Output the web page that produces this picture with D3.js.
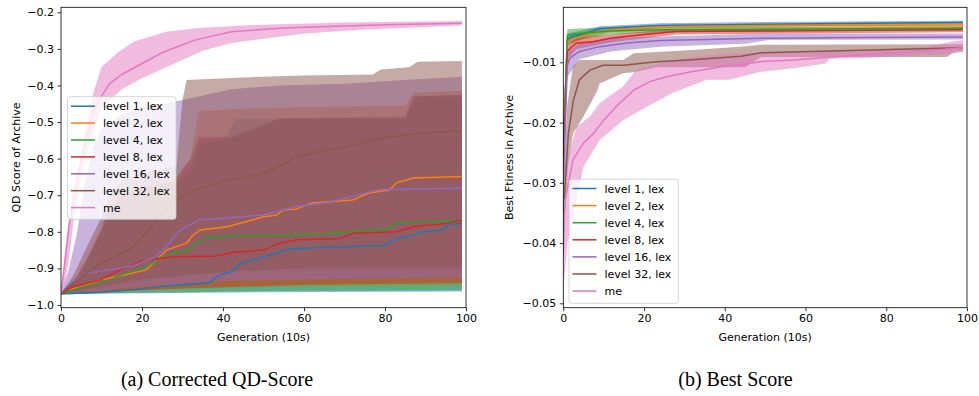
<!DOCTYPE html>
<html><head><meta charset="utf-8">
<script src="https://cdn.jsdelivr.net/npm/d3@7"></script>
<style>html,body{margin:0;padding:0;background:#fff;}svg{display:block;}</style>
</head><body>
<svg id="c" width="979" height="396"></svg>
<script>
// ---------------- DATA ----------------
const SERIES = ["level 1, lex","level 2, lex","level 4, lex","level 8, lex","level 16, lex","level 32, lex","me"];
const X_TICKS = [0,20,40,60,80,100];
const QD_TICKS = [-1.0,-0.9,-0.8,-0.7,-0.6,-0.5,-0.4,-0.3,-0.2];
const BF_TICKS = [-0.05,-0.04,-0.03,-0.02,-0.01];

// (a) QD score: [generation, value]
const QD_MEAN_L1 = [[0,-0.97],[10,-0.965],[18,-0.958],[26,-0.948],[36,-0.94],[37,-0.936],[38.4,-0.923],[40,-0.915],[41.7,-0.911],[43,-0.9],[44.2,-0.886],[47.5,-0.877],[50,-0.868],[53,-0.86],[55.7,-0.848],[64,-0.842],[79.5,-0.838],[81,-0.83],[83,-0.818],[87,-0.809],[89.4,-0.8],[94.4,-0.795],[95.6,-0.781],[99,-0.777]];
const QD_MEAN_L2 = [[0,-0.97],[1.4,-0.96],[5,-0.95],[9.6,-0.932],[14.6,-0.921],[21,-0.904],[23.6,-0.877],[26,-0.85],[31,-0.831],[32.5,-0.81],[34.3,-0.795],[41,-0.786],[45.8,-0.772],[50,-0.759],[53,-0.755],[55,-0.74],[58,-0.738],[62,-0.721],[72,-0.713],[76,-0.694],[81,-0.686],[83,-0.665],[87,-0.653],[99,-0.649]];
const QD_MEAN_L4 = [[0,-0.97],[5.4,-0.95],[12,-0.932],[16,-0.913],[21,-0.895],[26,-0.863],[31,-0.852],[33.5,-0.831],[36,-0.815],[46.7,-0.809],[66,-0.806],[70.5,-0.8],[81,-0.79],[83,-0.775],[99,-0.77]];
const QD_MEAN_L8 = [[0,-0.97],[3,-0.95],[9.6,-0.932],[14.6,-0.904],[19.5,-0.882],[24.4,-0.872],[27.7,-0.868],[38.4,-0.866],[42.5,-0.856],[50,-0.85],[54,-0.831],[58,-0.822],[69,-0.818],[72,-0.804],[83,-0.8],[87,-0.786],[95,-0.777],[99,-0.768]];
const QD_MEAN_L16 = [[0,-0.97],[1.4,-0.95],[6.3,-0.913],[12,-0.904],[17.8,-0.893],[23,-0.871],[26,-0.84],[29.4,-0.795],[34,-0.768],[41,-0.762],[46.7,-0.757],[50,-0.754],[58,-0.731],[66,-0.72],[73,-0.7],[78.8,-0.684],[99,-0.681]];
const QD_MEAN_L32 = [[0,-0.97],[2,-0.95],[5,-0.925],[9.6,-0.886],[14,-0.865],[18,-0.84],[23,-0.776],[27,-0.73],[31,-0.694],[36,-0.675],[41,-0.658],[46,-0.65],[50,-0.64],[54,-0.62],[58,-0.596],[64,-0.58],[70.5,-0.567],[75,-0.555],[79,-0.544],[89,-0.53],[99,-0.524]];
const QD_MEAN_ME = [[0,-0.97],[1,-0.88],[2,-0.78],[3,-0.71],[5,-0.6],[8,-0.47],[10,-0.43],[12,-0.395],[15,-0.37],[20,-0.34],[25,-0.31],[33,-0.276],[42,-0.253],[55,-0.243],[66,-0.239],[80,-0.234],[99,-0.23]];

const QD_HI_L1 = [[0,-0.97],[4,-0.93],[7,-0.87],[10,-0.8],[12,-0.74],[15,-0.71],[20,-0.69],[28,-0.67],[32,-0.62],[34,-0.55],[41,-0.54],[43,-0.49],[85,-0.49],[87,-0.43],[99,-0.425]];
const QD_LO_L1 = [[0,-0.97],[50,-0.965],[99,-0.963]];
const QD_HI_L2 = [[0,-0.97],[4,-0.92],[7,-0.86],[10,-0.79],[12,-0.73],[15,-0.7],[20,-0.68],[28,-0.66],[32,-0.6],[34,-0.47],[42,-0.465],[54,-0.46],[85,-0.455],[87,-0.42],[99,-0.415]];
const QD_LO_L2 = [[0,-0.97],[20,-0.96],[50,-0.95],[99,-0.945]];
const QD_HI_L4 = [[0,-0.97],[4,-0.93],[7,-0.87],[10,-0.8],[12,-0.74],[15,-0.71],[20,-0.69],[28,-0.67],[32,-0.64],[34,-0.56],[42,-0.545],[54,-0.49],[85,-0.49],[88,-0.43],[99,-0.43]];
const QD_LO_L4 = [[0,-0.97],[50,-0.962],[99,-0.96]];
const QD_HI_L8 = [[0,-0.97],[4,-0.92],[7,-0.86],[10,-0.79],[12,-0.73],[15,-0.7],[20,-0.68],[28,-0.66],[32,-0.6],[34,-0.54],[42,-0.54],[54,-0.49],[85,-0.485],[87,-0.43],[99,-0.425]];
const QD_LO_L8 = [[0,-0.97],[30,-0.955],[60,-0.945],[99,-0.94]];
const QD_HI_L16 = [[0,-0.97],[2,-0.9],[4,-0.8],[6,-0.66],[8,-0.57],[10,-0.52],[15,-0.48],[20,-0.46],[30,-0.44],[42,-0.41],[54,-0.4],[70,-0.395],[85,-0.385],[99,-0.376]];
const QD_LO_L16 = [[0,-0.97],[20,-0.95],[40,-0.935],[60,-0.93],[99,-0.925]];
const QD_HI_L32 = [[0,-0.97],[3,-0.92],[6,-0.85],[10,-0.76],[12,-0.7],[15,-0.66],[20,-0.64],[28.5,-0.62],[30,-0.44],[31,-0.385],[45,-0.378],[60,-0.373],[77,-0.37],[79,-0.356],[86,-0.35],[88,-0.335],[99,-0.333]];
const QD_LO_L32 = [[0,-0.97],[10,-0.95],[20,-0.93],[40,-0.91],[60,-0.9],[99,-0.9]];
const QD_HI_ME = [[0,-0.97],[1,-0.85],[2,-0.77],[4,-0.67],[6,-0.52],[8,-0.42],[10,-0.35],[14,-0.31],[18,-0.28],[26,-0.253],[34,-0.243],[47,-0.235],[70,-0.228],[99,-0.224]];
const QD_LO_ME = [[0,-0.97],[1,-0.94],[2,-0.87],[3,-0.78],[5,-0.65],[7,-0.56],[10,-0.46],[15,-0.41],[20,-0.38],[28,-0.34],[35,-0.305],[42,-0.284],[50,-0.272],[60,-0.258],[75,-0.247],[90,-0.24],[99,-0.236]];

// (b) Best fitness: [generation, value]
const BF_MEAN_L1 = [[0,-0.025],[1,-0.0062],[2,-0.0058],[4,-0.0055],[9,-0.0044],[15,-0.0042],[24,-0.0039],[50,-0.0037],[75,-0.0035],[99,-0.0034]];
const BF_MEAN_L2 = [[0,-0.025],[1,-0.0065],[4,-0.0058],[8,-0.005],[11.6,-0.0046],[24,-0.0041],[50,-0.0039],[99,-0.0038]];
const BF_MEAN_L4 = [[0,-0.024],[1,-0.0055],[4,-0.0052],[11.6,-0.0048],[24,-0.0046],[50,-0.0045],[99,-0.0043]];
const BF_MEAN_L8 = [[0,-0.026],[1,-0.0082],[2,-0.0075],[3.3,-0.0068],[7.4,-0.0066],[11.6,-0.006],[20,-0.0054],[28,-0.0049],[51,-0.0048],[75,-0.0047],[99,-0.0046]];
const BF_MEAN_L16 = [[0,-0.03],[1,-0.0105],[1.6,-0.0093],[4,-0.0082],[9,-0.0074],[15.7,-0.0068],[24,-0.0064],[36,-0.0062],[51,-0.006],[75,-0.0059],[99,-0.0058]];
const BF_MEAN_L32 = [[0,-0.035],[1.25,-0.0218],[2.5,-0.0163],[4,-0.0129],[6.6,-0.0113],[9.8,-0.0105],[15,-0.0105],[23,-0.0099],[31,-0.0096],[44,-0.009],[49,-0.0084],[73.5,-0.008],[99,-0.0076]];
const BF_MEAN_ME = [[0,-0.042],[0.4,-0.033],[2.4,-0.0262],[5,-0.0234],[7.5,-0.0218],[10,-0.0196],[13,-0.0174],[17.5,-0.0146],[21.5,-0.0132],[25.6,-0.0124],[31.4,-0.0116],[39.6,-0.0107],[43.8,-0.0104],[48.7,-0.0099],[57,-0.0096],[65,-0.0092],[73.5,-0.0088],[81.7,-0.0084],[90,-0.0081],[96.6,-0.0077],[99,-0.0076]];

const BF_HI_L1 = [[0,-0.022],[1,-0.0052],[4,-0.0048],[9,-0.004],[24,-0.0035],[50,-0.0033],[99,-0.0031]];
const BF_LO_L1 = [[0,-0.03],[1,-0.0072],[4,-0.0062],[9,-0.0048],[24,-0.0043],[50,-0.0041],[99,-0.0037]];
const BF_HI_L2 = [[0,-0.022],[1,-0.0058],[4,-0.0052],[11.6,-0.0042],[24,-0.0038],[99,-0.0035]];
const BF_LO_L2 = [[0,-0.028],[1,-0.0072],[4,-0.0064],[11.6,-0.005],[24,-0.0044],[99,-0.0041]];
const BF_HI_L4 = [[0,-0.02],[1,-0.0045],[4,-0.0044],[11.6,-0.0043],[24,-0.0042],[99,-0.004]];
const BF_LO_L4 = [[0,-0.028],[1,-0.0068],[4,-0.0062],[11.6,-0.0054],[24,-0.005],[99,-0.0046]];
const BF_HI_L8 = [[0,-0.022],[1,-0.0072],[3.3,-0.006],[11.6,-0.0054],[20,-0.0049],[28,-0.0045],[99,-0.0043]];
const BF_LO_L8 = [[0,-0.03],[1,-0.0095],[3.3,-0.0078],[11.6,-0.0067],[20,-0.006],[28,-0.0054],[99,-0.005]];
const BF_HI_L16 = [[0,-0.026],[1,-0.0085],[4,-0.0068],[11.6,-0.006],[24,-0.0057],[51,-0.0052],[99,-0.0052]];
const BF_LO_L16 = [[0,-0.034],[1,-0.0125],[4,-0.0095],[11.6,-0.0082],[24,-0.0074],[45,-0.0069],[51,-0.0063],[99,-0.0062]];
const BF_HI_L32 = [[0,-0.03],[1,-0.017],[2.4,-0.0107],[4,-0.0096],[14.8,-0.0096],[17.5,-0.0085],[31,-0.008],[43.8,-0.0074],[49,-0.0071],[99,-0.007]];
const BF_LO_L32 = [[0,-0.04],[1.2,-0.027],[2.4,-0.0218],[5,-0.019],[8.3,-0.0149],[9,-0.0135],[14.8,-0.0118],[18,-0.0116],[23,-0.0108],[45,-0.0108],[49,-0.0091],[95,-0.0091],[97,-0.0082],[99,-0.0082]];
const BF_HI_ME = [[0,-0.035],[1,-0.026],[3.3,-0.0207],[6.6,-0.019],[9,-0.0168],[14.8,-0.014],[18,-0.0113],[24,-0.0102],[32,-0.0091],[40,-0.0086],[48,-0.0084],[70,-0.0082],[85,-0.0076],[90,-0.0074],[96,-0.0066],[99,-0.0063]];
const BF_LO_ME = [[0,-0.048],[1,-0.04],[5,-0.0273],[9,-0.0229],[14.8,-0.0196],[20.6,-0.0174],[27,-0.0151],[35.5,-0.0129],[41,-0.0129],[48.7,-0.0116],[57,-0.011],[65,-0.0102],[66,-0.0094],[73.5,-0.0093],[90,-0.0088],[97,-0.0085],[99,-0.0083]];

// ---------------- STYLE ----------------
const COLORS = ["#1f77b4","#ff7f0e","#2ca02c","#d62728","#9467bd","#8c564b","#e377c2"];
const FONT = "DejaVu Sans";

const svg = d3.select("#c");

function panel(cfg){
  const x = d3.scaleLinear().domain([0,100]).range([cfg.x0,cfg.x1]);
  const y = d3.scaleLinear().domain(cfg.ydom).range([cfg.y1,cfg.y0]);
  const g = svg.append("g");
  const clipId = "clip"+cfg.id;
  svg.append("clipPath").attr("id",clipId).append("rect")
    .attr("x",cfg.x0).attr("y",cfg.y0).attr("width",cfg.x1-cfg.x0).attr("height",cfg.y1-cfg.y0);
  const plot = g.append("g").attr("clip-path","url(#"+clipId+")");
  const line = d3.line().x(d=>x(d[0])).y(d=>y(d[1]));
  cfg.bands.forEach((b,i)=>{
    const pts = b[0].concat(b[1].slice().reverse());
    plot.append("path").attr("d", line(pts)+"Z")
      .attr("fill",COLORS[i]).attr("fill-opacity",0.5).attr("stroke","none");
  });
  cfg.means.forEach((m,i)=>{
    plot.append("path").attr("d", line(m)).attr("fill","none")
      .attr("stroke",COLORS[i]).attr("stroke-width",1.5).attr("stroke-linejoin","round");
  });
  // axes
  const xa = g.append("g").attr("transform",`translate(0,${cfg.y1})`)
    .call(d3.axisBottom(x).tickValues(X_TICKS).tickFormat(d3.format("d")).tickSize(3.5).tickPadding(3.5));
  const ya = g.append("g").attr("transform",`translate(${cfg.x0},0)`)
    .call(d3.axisLeft(y).tickValues(cfg.yticks).tickFormat(d3.format(cfg.yfmt)).tickSize(3.5).tickPadding(3.5));
  [xa,ya].forEach(a=>{
    a.select(".domain").remove();
    a.selectAll("line").attr("stroke","#000").attr("stroke-width",0.8);
    a.selectAll("text").attr("font-family",FONT).attr("font-size",11).attr("fill","#000");
  });
  g.append("rect").attr("x",cfg.x0).attr("y",cfg.y0).attr("width",cfg.x1-cfg.x0).attr("height",cfg.y1-cfg.y0)
    .attr("fill","none").attr("stroke","#000").attr("stroke-width",0.8);
  g.append("text").attr("x",(cfg.x0+cfg.x1)/2).attr("y",341).attr("text-anchor","middle")
    .attr("font-family",FONT).attr("font-size",11).text("Generation (10s)");
  g.append("text").attr("transform",`translate(${cfg.ylabX},${(cfg.y0+cfg.y1)/2}) rotate(-90)`)
    .attr("text-anchor","middle").attr("font-family",FONT).attr("font-size",11).text(cfg.ylabel);
  // legend
  const L = cfg.legend;
  const lg = g.append("g");
  lg.append("rect").attr("x",L.x).attr("y",L.y).attr("width",L.w).attr("height",L.h).attr("rx",2.5)
    .attr("fill","#fff").attr("fill-opacity",0.8).attr("stroke","#cccccc").attr("stroke-width",0.8);
  SERIES.forEach((s,i)=>{
    const yy = L.y + L.first + i*L.step;
    lg.append("line").attr("x1",L.x+3.5).attr("x2",L.x+27.5).attr("y1",yy).attr("y2",yy)
      .attr("stroke",COLORS[i]).attr("stroke-width",1.5);
    lg.append("text").attr("x",L.x+35.5).attr("y",yy+4).attr("font-family",FONT).attr("font-size",11)
      .attr("fill","#000").text(s);
  });
  // caption
  svg.append("text").attr("x",cfg.capX).attr("y",386).attr("text-anchor","middle")
    .attr("font-family","Liberation Serif").attr("font-size",cfg.capSize).attr("fill","#000").text(cfg.caption);
}

panel({id:"a", x0:61, x1:466, y0:7.3, y1:307.7, ydom:[-1.0074,-0.1863], yticks:QD_TICKS, yfmt:".1f",
  ylabel:"QD Score of Archive", ylabX:20,
  means:[QD_MEAN_L1,QD_MEAN_L2,QD_MEAN_L4,QD_MEAN_L8,QD_MEAN_L16,QD_MEAN_L32,QD_MEAN_ME],
  bands:[[QD_HI_L1,QD_LO_L1],[QD_HI_L2,QD_LO_L2],[QD_HI_L4,QD_LO_L4],[QD_HI_L8,QD_LO_L8],[QD_HI_L16,QD_LO_L16],[QD_HI_L32,QD_LO_L32],[QD_HI_ME,QD_LO_ME]],
  legend:{x:67.5,y:96.7,w:108.5,h:122.6,first:9.5,step:16.9},
  caption:"(a) Corrected QD-Score", capX:217, capSize:20});

panel({id:"b", x0:563.3, x1:967, y0:7.3, y1:307.7, ydom:[-0.05073,-0.00087], yticks:BF_TICKS, yfmt:".2f",
  ylabel:"Best Ftiness in Archive", ylabX:513,
  means:[BF_MEAN_L1,BF_MEAN_L2,BF_MEAN_L4,BF_MEAN_L8,BF_MEAN_L16,BF_MEAN_L32,BF_MEAN_ME],
  bands:[[BF_HI_L1,BF_LO_L1],[BF_HI_L2,BF_LO_L2],[BF_HI_L4,BF_LO_L4],[BF_HI_L8,BF_LO_L8],[BF_HI_L16,BF_LO_L16],[BF_HI_L32,BF_LO_L32],[BF_HI_ME,BF_LO_ME]],
  legend:{x:569,y:179.3,w:109.3,h:124,first:9.2,step:17.1},
  caption:"(b) Best Score", capX:735.5, capSize:20});
</script>
</body></html>
